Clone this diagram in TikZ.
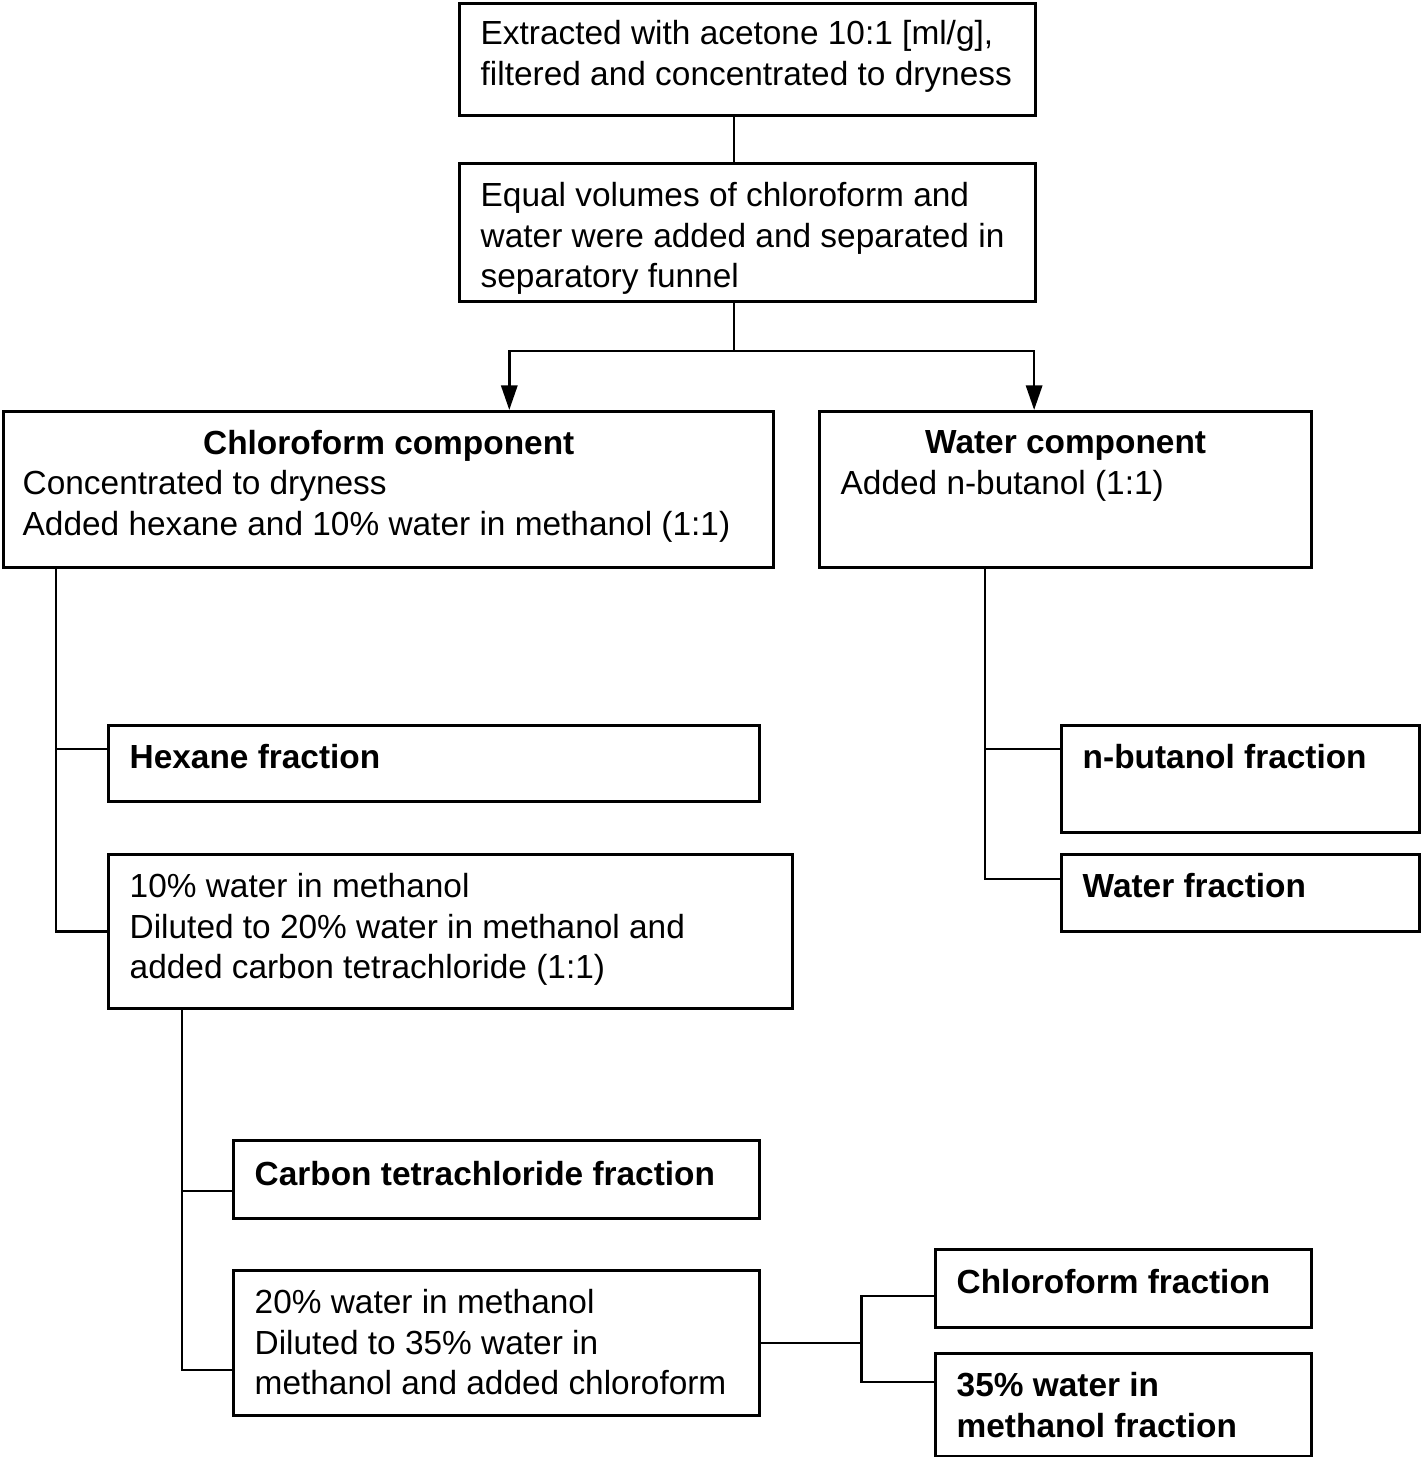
\documentclass[tikz,border=0pt]{standalone}
\usepackage{fontspec}
\setmainfont{Liberation Sans}
\usetikzlibrary{arrows.meta}

\begin{document}
\begin{tikzpicture}[x=0.01cm, y=-0.01cm,
    box/.style={draw, line width=0.85pt, inner sep=0pt, anchor=north west},
    txt/.style={anchor=north west, inner sep=0pt, align=left, font=\fontsize{9.5}{11.4}\selectfont},
    ttl/.style={anchor=north, inner sep=0pt, font=\fontsize{9.5}{11.4}\selectfont\bfseries},
    link/.style={line width=0.75pt},
    arr/.style={link, -{Triangle[length=7pt, width=4.6pt]}}]

\useasboundingbox (0,0) rectangle (1420,1457);

% Draw the boxes
\node[box, minimum width=5.76cm, minimum height=1.12cm] (ext) at (458,2) {};
\node[box, minimum width=5.76cm, minimum height=1.38cm] (sep) at (458,162) {};
\node[box, minimum width=7.70cm, minimum height=1.56cm] (chl) at (2,410) {};
\node[box, minimum width=4.92cm, minimum height=1.56cm] (wat) at (818,410) {};
\node[box, minimum width=6.51cm, minimum height=0.76cm] (hex) at (107,724) {};
\node[box, minimum width=6.84cm, minimum height=1.54cm] (mix10) at (107,853) {};
\node[box, minimum width=3.58cm, minimum height=1.07cm] (but) at (1060,724) {};
\node[box, minimum width=3.58cm, minimum height=0.77cm] (wfr) at (1060,853) {};
\node[box, minimum width=5.26cm, minimum height=0.78cm] (ccl) at (232,1139) {};
\node[box, minimum width=5.26cm, minimum height=1.45cm] (mix20) at (232,1269) {};
\node[box, minimum width=3.76cm, minimum height=0.78cm] (cfr) at (934,1248) {};
\node[box, minimum width=3.76cm, minimum height=1.03cm] (m35) at (934,1352) {};

% Add the texts
\node[txt] (extT) at ([shift={(22,18)}]ext.north west) {Extracted with acetone 10:1 [ml/g],\\filtered and concentrated to dryness};
\node[txt] (sepT) at ([shift={(22,20)}]sep.north west) {Equal volumes of chloroform and\\water were added and separated in\\separatory funnel};
\node[ttl] (chlH) at ([yshift=-0.20cm]chl.north) {Chloroform component};
\node[txt] (chlT) at ([shift={(20,60)}]chl.north west) {Concentrated to dryness\\Added hexane and 10\% water in methanol (1:1)};
\node[ttl] (watH) at ([yshift=-0.20cm]wat.north) {Water component};
\node[txt] (watT) at ([shift={(22,60)}]wat.north west) {Added n-butanol (1:1)};
\node[txt, font=\fontsize{9.5}{11.4}\selectfont\bfseries] (hexT) at ([shift={(22,20)}]hex.north west) {Hexane fraction};
\node[txt] (mix10T) at ([shift={(22,20)}]mix10.north west) {10\% water in methanol\\Diluted to 20\% water in methanol and\\added carbon tetrachloride (1:1)};
\node[txt, font=\fontsize{9.5}{11.4}\selectfont\bfseries] (butT) at ([shift={(22,20)}]but.north west) {n-butanol fraction};
\node[txt, font=\fontsize{9.5}{11.4}\selectfont\bfseries] (wfrT) at ([shift={(22,20)}]wfr.north west) {Water fraction};
\node[txt, font=\fontsize{9.5}{11.4}\selectfont\bfseries] (cclT) at ([shift={(22,22)}]ccl.north west) {Carbon tetrachloride fraction};
\node[txt] (mix20T) at ([shift={(22,20)}]mix20.north west) {20\% water in methanol\\Diluted to 35\% water in\\methanol and added chloroform};
\node[txt, font=\fontsize{9.5}{11.4}\selectfont\bfseries] (cfrT) at ([shift={(22,21)}]cfr.north west) {Chloroform fraction};
\node[txt, font=\fontsize{9.5}{11.4}\selectfont\bfseries] (m35T) at ([shift={(22,20)}]m35.north west) {35\% water in\\methanol fraction};

% Junction points
\coordinate (split) at (734,351);
\coordinate (j1) at (56,566);
\coordinate (j2) at (985,566);
\coordinate (j3) at (182,1007);
\coordinate (j4) at ([xshift=1cm]mix20.east);

% Draw the connectors
\draw[link] (ext.south -| split) -- (sep.north -| split);
\draw[link] (sep.south -| split) -- (split);
\draw[arr] (split) -| ([xshift=5.07cm]chl.north west);
\draw[arr] (split) -| ([xshift=2.16cm]wat.north west);

\draw[link] (j1) |- ([yshift=-0.25cm]hex.north west);
\draw[link] (j1) |- (mix10.west);

\draw[link] (j2) |- ([yshift=-0.25cm]but.north west);
\draw[link] (j2) |- ([yshift=-0.26cm]wfr.north west);

\draw[link] (j3) |- ([yshift=-0.52cm]ccl.north west);
\draw[link] (j3) |- ([yshift=-1.01cm]mix20.north west);

\draw[link] (mix20.east) -- (j4);
\draw[link] (j4) |- ([yshift=-0.48cm]cfr.north west);
\draw[link] (j4) |- ([yshift=-0.30cm]m35.north west);

\end{tikzpicture}
\end{document}
